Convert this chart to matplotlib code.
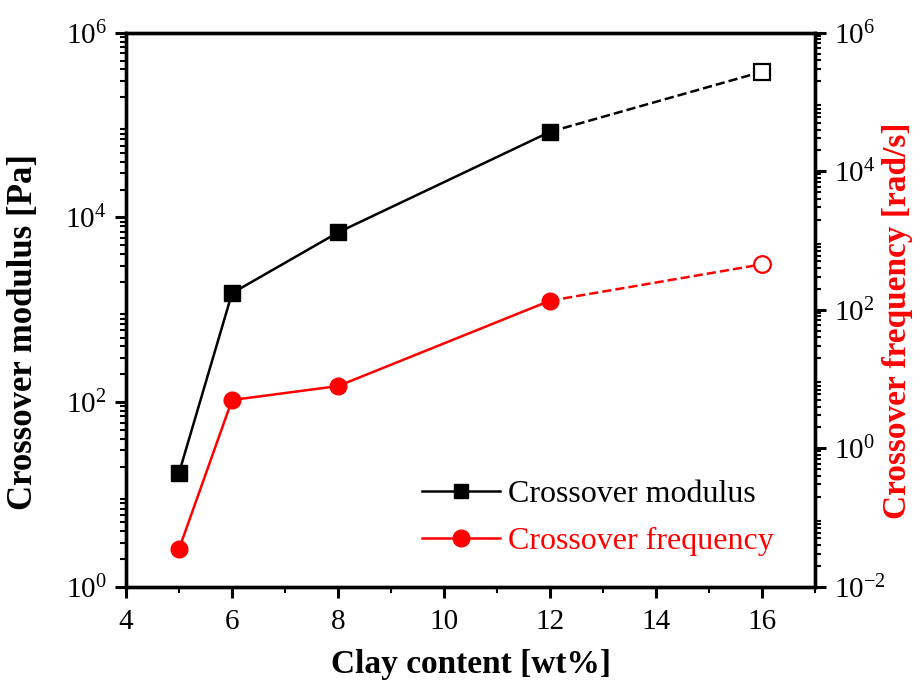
import matplotlib

matplotlib.use("Agg")
import matplotlib.pyplot as plt
from matplotlib.lines import Line2D
from matplotlib.ticker import LogLocator, MultipleLocator

# Data
clay = [5, 6, 8, 12, 16]
modulus = [17.1, 1510, 6870, 84500, 378000]       # Pa
frequency = [0.035, 4.97, 7.9, 135, 453]          # rad/s

plt.rcParams["font.family"] = ["Liberation Serif", "DejaVu Serif"]
plt.rcParams["mathtext.fontset"] = "custom"
plt.rcParams["mathtext.rm"] = "Liberation Serif"
plt.rcParams["mathtext.it"] = "Liberation Serif:italic"
plt.rcParams["mathtext.bf"] = "Liberation Serif:bold"

fig = plt.figure(figsize=(9.22, 6.82), dpi=100)
ax = fig.add_axes([0.1367, 0.1397, 0.7473, 0.8123])
ax2 = ax.twinx()

# solid part (measured), then dashed line to the last (open) point
ax.plot(clay[:4], modulus[:4], color="black", lw=1.8, marker="s", ms=11, zorder=3)
ax.plot(clay[3:], modulus[3:], color="black", lw=1.8, ls="--", zorder=2)
ax.plot(clay[4:], modulus[4:], ls="none", marker="s", ms=11, mfc="white",
        mec="black", mew=1.6, zorder=4)

ax2.plot(clay[:4], frequency[:4], color="red", lw=1.8, marker="o", ms=12, zorder=3)
ax2.plot(clay[3:], frequency[3:], color="red", lw=1.8, ls="--", zorder=2)
ax2.plot(clay[4:], frequency[4:], ls="none", marker="o", ms=12, mfc="white",
         mec="red", mew=1.6, zorder=4)

ax.set_xlim(4, 17)
ax.set_yscale("log")
ax.set_ylim(1, 1e6)
ax2.set_yscale("log")
ax2.set_ylim(1e-2, 1e6)

ax.xaxis.set_major_locator(MultipleLocator(2))
ax.xaxis.set_minor_locator(MultipleLocator(1))
ax.set_yticks([1, 1e2, 1e4, 1e6])
ax.yaxis.set_minor_locator(LogLocator(base=10, subs=range(2, 10), numticks=20))
ax2.set_yticks([1e-2, 1, 1e2, 1e4, 1e6])
ax2.yaxis.set_minor_locator(LogLocator(base=10, subs=range(2, 10), numticks=20))

for a in (ax, ax2):
    for s in a.spines.values():
        s.set_linewidth(2.4)
    a.tick_params(which="major", length=8, width=2.2, direction="out",
                  labelsize=21, pad=6)
    a.tick_params(which="minor", length=4, width=1.5, direction="out")
ax.tick_params(axis="x", which="both", top=False)
ax.tick_params(axis="x", which="major", pad=8)
ax.tick_params(axis="y", which="both", right=False)

ax.set_xlabel("Clay content [wt%]", fontsize=24, fontweight="bold")
ax.xaxis.set_label_coords(0.5, -0.112)
ax.set_ylabel("Crossover modulus [Pa]", fontsize=25, fontweight="bold")
ax.yaxis.set_label_coords(-0.125, 0.46)
ax2.set_ylabel("Crossover frequency [rad/s]", fontsize=24, fontweight="bold",
               color="red")
ax2.yaxis.set_label_coords(1.097, 0.48)

handles = [
    Line2D([], [], color="black", lw=1.8, marker="s", ms=10),
    Line2D([], [], color="red", lw=1.8, marker="o", ms=12),
]
leg = ax.legend(handles, ["Crossover modulus", "Crossover frequency"],
                loc="lower left", bbox_to_anchor=(0.388, 0.003), frameon=False,
                fontsize=23, handlelength=2.45, handletextpad=0.25,
                labelspacing=0.55)
leg.get_texts()[1].set_color("red")

fig.savefig("out.png", dpi=100)
